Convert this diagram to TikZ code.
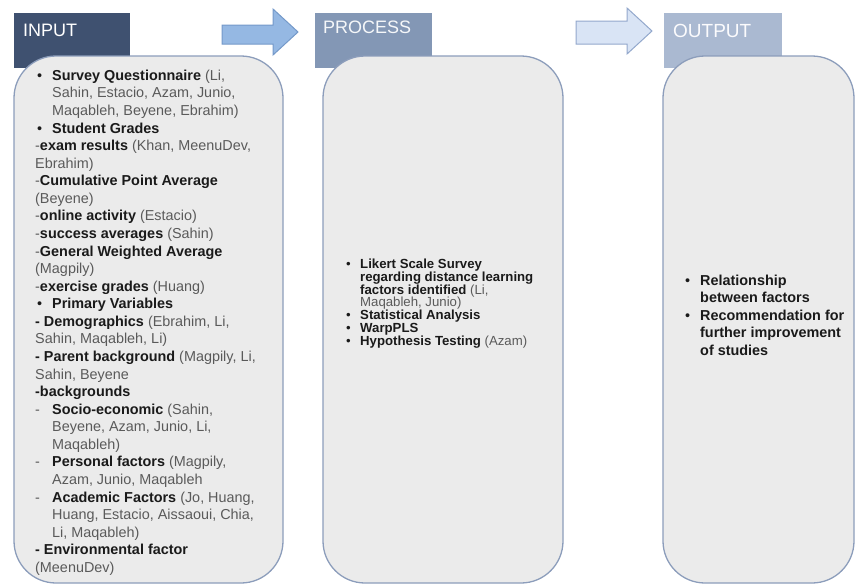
\documentclass[tikz,border=0pt]{standalone}
\usepackage{fontspec}
\setmainfont{Liberation Sans}
\usepackage{xcolor}
\definecolor{hdrA}{HTML}{3F5170}
\definecolor{hdrB}{HTML}{8397B5}
\definecolor{hdrC}{HTML}{AAB9D1}
\definecolor{boxfill}{HTML}{EBEBEB}
\definecolor{boxline}{HTML}{8C9DBB}
\definecolor{arrAfill}{HTML}{95B8E3}
\definecolor{arrAline}{HTML}{7499C9}
\definecolor{arrBfill}{HTML}{D9E4F5}
\definecolor{arrBline}{HTML}{93A8CC}
\definecolor{txtgray}{HTML}{5A5A5A}
\definecolor{txtdark}{HTML}{1A1A1A}
\newcommand{\hb}[1]{{\color{txtdark}\bfseries #1}}
\newcommand{\bl}[1]{\makebox[#1][l]{\hspace{2pt}{\color{txtdark}•}}}
\newcommand{\ind}[1]{\hspace*{#1}}
\tikzset{
  hdrtxt/.style={anchor=west, inner sep=0pt, font=\fontsize{18}{20}\selectfont},
  panel/.style={draw=boxline, fill=boxfill, line width=1.3pt, rounded corners=42pt},
  blockarrow/.style={line width=1pt, line join=miter},
  bodytxt/.style={anchor=north west, inner sep=0pt, align=left, text=txtgray},
}
\begin{document}
\begin{tikzpicture}[x=1pt,y=-1pt]
\useasboundingbox (0,0) rectangle (855,584);
% headers
\fill[hdrA] (14,13) rectangle (130,68);
\fill[hdrB] (315,13) rectangle (432,68);
\fill[hdrC] (664,13) rectangle (782,68);
\node[hdrtxt, text=white] (tin) at (23,30) {INPUT};
\node[hdrtxt, text=white!92!hdrB] (tproc) at (323,27.5) {PROCESS};
\node[hdrtxt, text=white!95!hdrC, font=\fontsize{19}{21}\selectfont] (tout) at (673,30.5) {OUTPUT};
% block arrows
\draw[blockarrow, fill=arrAfill, draw=arrAline]
  (222,25) -- (273,25) -- (273,9) -- (298,32) -- (273,55) -- (273,44) -- (222,44) -- cycle;
\draw[blockarrow, fill=arrBfill, draw=arrBline]
  (576,21) -- (627,21) -- (627,8) -- (652,31) -- (627,54) -- (627,44) -- (576,44) -- cycle;
% panels
\draw[panel] (14,56) rectangle (283,583);
\draw[panel] (323,56) rectangle (563,583);
\draw[panel] (663,56) rectangle (854,583);
% input text
\node[bodytxt, font=\fontsize{14.4}{17.57}\selectfont] (inputtext) at (35,69.7) {%
\bl{17pt}\hb{Survey Questionnaire} (Li,\\
\ind{17pt}Sahin, Estacio, Azam, Junio,\\
\ind{17pt}Maqableh, Beyene, Ebrahim)\\
\bl{17pt}\hb{Student Grades}\\
-\hb{exam results} (Khan, MeenuDev,\\
Ebrahim)\\
-\hb{Cumulative Point Average}\\
(Beyene)\\
-\hb{online activity} (Estacio)\\
-\hb{success averages} (Sahin)\\
-\hb{General Weighted Average}\\
(Magpily)\\
-\hb{exercise grades} (Huang)\\
\bl{17pt}\hb{Primary Variables}\\
\hb{- Demographics} (Ebrahim, Li,\\
Sahin, Maqableh, Li)\\
\hb{- Parent background} (Magpily, Li,\\
Sahin, Beyene\\
\hb{-backgrounds}\\
\makebox[17pt][l]{-}\hb{Socio-economic} (Sahin,\\
\ind{17pt}Beyene, Azam, Junio, Li,\\
\ind{17pt}Maqableh)\\
\makebox[17pt][l]{-}\hb{Personal factors} (Magpily,\\
\ind{17pt}Azam, Junio, Maqableh\\
\makebox[17pt][l]{-}\hb{Academic Factors} (Jo, Huang,\\
\ind{17pt}Huang, Estacio, Aissaoui, Chia,\\
\ind{17pt}Li, Maqableh)\\
\hb{- Environmental factor}\\
(MeenuDev)};
% process text
\node[bodytxt, font=\fontsize{13.2}{12.9}\selectfont] (proctext) at (344,258.5) {%
\bl{16pt}\hb{Likert Scale Survey}\\
\ind{16pt}\hb{regarding distance learning}\\
\ind{16pt}\hb{factors identified} (Li,\\
\ind{16pt}Maqableh, Junio)\\
\bl{16pt}\hb{Statistical Analysis}\\
\bl{16pt}\hb{WarpPLS}\\
\bl{16pt}\hb{Hypothesis Testing} (Azam)};
% output text
\node[bodytxt, font=\fontsize{14.4}{17.5}\selectfont] (outtext) at (683,274.5) {%
\bl{17pt}\hb{Relationship}\\
\ind{17pt}\hb{between factors}\\
\bl{17pt}\hb{Recommendation for}\\
\ind{17pt}\hb{further improvement}\\
\ind{17pt}\hb{of studies}};
\end{tikzpicture}
\end{document}
